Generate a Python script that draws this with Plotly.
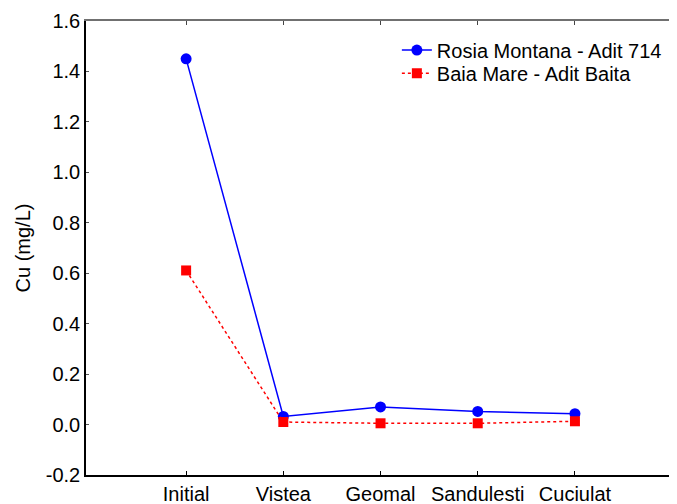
import plotly.graph_objects as go

categories = ["Initial", "Vistea", "Geomal", "Sandulesti", "Cuciulat"]
rosia = [1.45, 0.032, 0.070, 0.052, 0.043]
baia = [0.611, 0.010, 0.005, 0.005, 0.013]
y_ticks = [-0.2, 0.0, 0.2, 0.4, 0.6, 0.8, 1.0, 1.2, 1.4, 1.6]
y_tick_text = ["-0.2", "0.0", "0.2", "0.4", "0.6", "0.8", "1.0", "1.2", "1.4", "1.6"]

xpos = list(range(len(categories)))
font = dict(family="Liberation Sans, Arial, sans-serif", size=20, color="black")

fig = go.Figure()
fig.add_trace(go.Scatter(
    x=xpos, y=rosia, mode="lines+markers", name="Rosia Montana - Adit 714",
    line=dict(color="#0000ff", width=1.5),
    marker=dict(symbol="circle", size=11, color="#0000ff"),
    legend="legend",
))
fig.add_trace(go.Scatter(
    x=xpos, y=baia, mode="lines+markers", name="Baia Mare - Adit Baita",
    line=dict(color="#ff0000", width=1.5, dash="dot"),
    marker=dict(symbol="square", size=10, color="#ff0000"),
    legend="legend2",
))
# top axis (grey)
fig.add_trace(go.Scatter(x=xpos, y=rosia, xaxis="x2", showlegend=False,
                         mode="none", hoverinfo="skip"))

xr = [-1.03, 5.05]
leg_common = dict(x=0.526, xanchor="left", yanchor="middle",
                  bgcolor="rgba(0,0,0,0)", font=font, itemwidth=30)
fig.update_layout(
    # page body has an 8px margin, so the figure is sized to fill the rest
    width=669, height=496,
    margin=dict(l=78, r=0, t=13, b=29, autoexpand=False),
    paper_bgcolor="white", plot_bgcolor="white",
    font=font,
    showlegend=True,
    legend=dict(y=0.936, **leg_common),
    legend2=dict(y=0.885, **leg_common),
    xaxis=dict(range=xr, tickmode="array", tickvals=xpos, ticktext=categories,
               showline=True, linecolor="black", linewidth=1.5,
               ticks="inside", ticklen=4, tickcolor="black", automargin=False,
               showgrid=False, zeroline=False, tickfont=font),
    xaxis2=dict(range=xr, overlaying="x", side="top", tickmode="array",
                tickvals=xpos, showticklabels=False, automargin=False,
                showline=True, linecolor="#707070", linewidth=1.5,
                ticks="inside", ticklen=4, tickcolor="#444444",
                showgrid=False, zeroline=False),
    yaxis=dict(range=[-0.2, 1.6], tickmode="array", tickvals=y_ticks,
               ticktext=y_tick_text, automargin=False,
               showline=True, linecolor="black", linewidth=1.5,
               ticks="inside", ticklen=3, tickcolor="#555555",
               showgrid=False, zeroline=False, tickfont=font,
               title=dict(text="Cu (mg/L)", font=font, standoff=10)),
)

fig.write_html("out.html")
